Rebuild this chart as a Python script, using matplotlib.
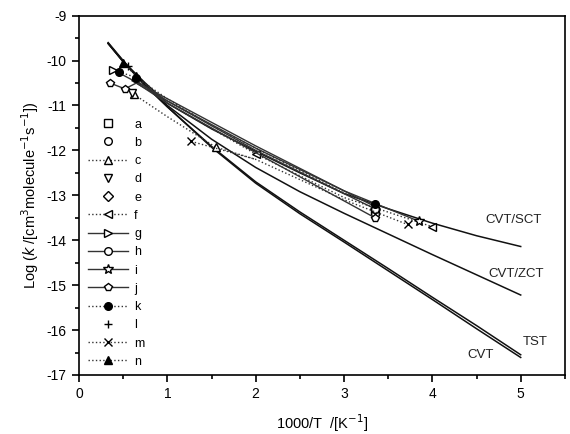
import matplotlib
matplotlib.use('Agg')
import matplotlib.pyplot as plt
from matplotlib.ticker import MultipleLocator

plt.rcParams['font.family'] = ['Liberation Sans', 'DejaVu Sans']
plt.rcParams['axes.unicode_minus'] = False

# theory curves (solid)
x_th = [0.33, 0.5, 0.75, 1.0, 1.5, 2.0, 2.5, 3.0, 3.5, 4.0, 4.5, 5.0]
tst = [-9.6, -10.0, -10.55, -11.03, -11.93, -12.73, -13.41, -14.04, -14.68, -15.32, -15.97, -16.61]
cvt = [-9.62, -10.02, -10.56, -11.03, -11.91, -12.7, -13.37, -14.0, -14.63, -15.27, -15.9, -16.55]
cvt_zct = [-9.62, -10.03, -10.55, -11.0, -11.75, -12.38, -12.92, -13.4, -13.86, -14.32, -14.77, -15.22]
cvt_sct = [-9.62, -10.02, -10.5, -10.95, -11.52, -12.02, -12.5, -12.96, -13.3, -13.62, -13.9, -14.14]

# literature series: (label, marker, filled, linestyle, x, y, marked points)
series = [
    ('a', 's', False, 'none', [3.35], [-13.35], None),
    ('b', 'o', False, 'none', [3.35], [-13.42], None),
    ('c', '^', False, ':', [0.62, 1.0, 1.55, 2.0], [-10.75, -11.25, -11.93, -12.2], [0, 2]),
    ('d', 'v', False, 'none', [0.6], [-10.72], None),
    ('e', 'D', False, 'none', [3.35], [-13.3], None),
    ('f', '<', False, ':', [0.65, 1.0, 2.0, 3.0, 4.0], [-10.45, -10.95, -12.08, -13.05, -13.7], [2, 4]),
    ('g', '>', False, '-', [0.38, 0.62, 1.0, 2.0, 3.35], [-10.2, -10.45, -10.85, -11.9, -13.25], [0]),
    ('h', 'o', False, '-', [0.65, 1.0, 2.0, 3.35], [-10.45, -10.9, -12.0, -13.3], [3]),
    ('i', '*', False, '-', [0.6, 1.0, 2.0, 3.0, 3.85], [-10.45, -10.9, -11.95, -12.9, -13.58], [4]),
    ('j', 'p', False, '-', [0.35, 0.52, 0.65, 1.0, 2.0, 3.35], [-10.5, -10.63, -10.5, -10.95, -12.05, -13.5], [0, 1, 5]),
    ('k', 'o', True, ':', [0.45, 0.65, 1.0, 1.5, 2.0, 2.5, 3.0, 3.35], [-10.25, -10.38, -10.85, -11.45, -11.95, -12.45, -12.95, -13.2], [0, 1, 7]),
    ('l', '+', False, 'none', [0.55], [-10.12], None),
    ('m', 'x', False, ':', [1.27, 2.0, 3.0, 3.72], [-11.8, -12.2, -13.1, -13.65], [0, 3]),
    ('n', '^', True, ':', [0.5, 0.65], [-10.05, -10.35], [0, 1]),
]

fig = plt.figure(figsize=(5.7, 4.34), dpi=100)
ax = fig.add_axes([0.1386, 0.136, 0.8524, 0.828])

for yy in (tst, cvt, cvt_zct, cvt_sct):
    ax.plot(x_th, yy, color='#111111', lw=1.1)

for lab, mk, filled, ls, xs, ys, every in series:
    ms = 7.5 if mk == '*' else 5.5
    ax.plot(xs, ys, linestyle=ls, color='#333333', lw=1.0, marker=mk, markersize=ms,
            markerfacecolor='black' if filled else 'white', markeredgecolor='black',
            markeredgewidth=1.0, markevery=every, label=lab)

ax.text(4.6, -13.62, 'CVT/SCT', fontsize=9.5, color='#222222')
ax.text(4.63, -14.82, 'CVT/ZCT', fontsize=9.5, color='#222222')
ax.text(5.02, -16.33, 'TST', fontsize=9.5, color='#222222')
ax.text(4.4, -16.62, 'CVT', fontsize=9.5, color='#222222')

ax.set_xlim(0, 5.5)
ax.set_ylim(-17, -9)
ax.xaxis.set_major_locator(MultipleLocator(1))
ax.xaxis.set_minor_locator(MultipleLocator(0.5))
ax.yaxis.set_major_locator(MultipleLocator(1))
ax.yaxis.set_minor_locator(MultipleLocator(0.5))
for s in ax.spines.values():
    s.set_linewidth(1.2)
ax.tick_params(which='both', direction='out', labelsize=10, top=False, right=False, width=1.2)
ax.tick_params(which='major', length=5, pad=4)
ax.tick_params(which='minor', length=3)

ax.set_ylabel(r'Log ($k$ /[cm$^{3}$molecule$^{-1}$s$^{-1}$])', fontsize=10.5, labelpad=4)
ax.set_xlabel(r'1000/T  /[K$^{-1}$]', fontsize=10.5, labelpad=8)

ax.legend(loc='upper left', bbox_to_anchor=(0.0, 0.738), frameon=False, fontsize=9,
          handlelength=3.2, labelspacing=0.5, handletextpad=0.5, borderaxespad=0.3)

fig.savefig('out.png', dpi=100)
